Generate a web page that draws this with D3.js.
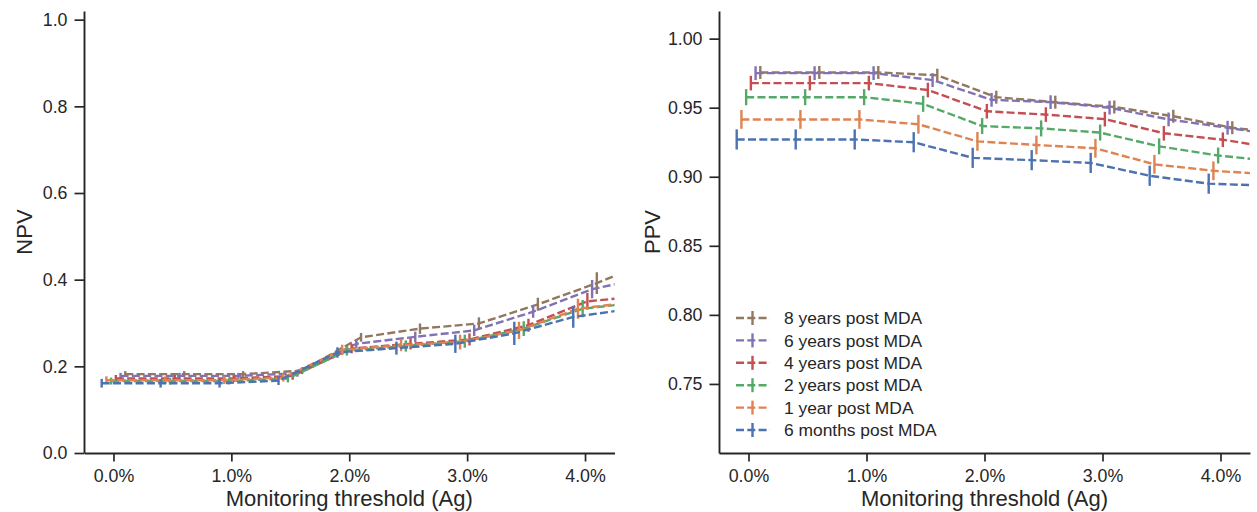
<!DOCTYPE html>
<html>
<head>
<meta charset="utf-8">
<script src="https://cdn.jsdelivr.net/npm/d3@7"></script>
<style>
  html, body { margin: 0; padding: 0; background: #fff; }
  svg { display: block; font-family: "Liberation Sans", Arial, sans-serif; }
</style>
</head>
<body>
<svg id="chart" width="1257" height="512"></svg>
<script>
// ---- data ----
const thresholds = [0, 0.5, 1.0, 1.5, 2.0, 2.5, 3.0, 3.5, 4.0, 4.5]; // %
const seriesNames = ["8 years post MDA", "6 years post MDA", "4 years post MDA",
                     "2 years post MDA", "1 year post MDA", "6 months post MDA"];
const seriesColors = ["#937860", "#8172B3", "#C44E52", "#55A868", "#DD8452", "#4C72B0"];
const seriesDodge = [0.1, 0.06, 0.02, -0.02, -0.06, -0.1];

const npv8y  = [0.182, 0.182, 0.182, 0.190, 0.267, 0.287, 0.299, 0.343, 0.392, 0.447];
const npv6y  = [0.178, 0.178, 0.178, 0.184, 0.252, 0.268, 0.283, 0.326, 0.378, 0.407];
const npv4y  = [0.172, 0.172, 0.172, 0.178, 0.241, 0.252, 0.262, 0.295, 0.350, 0.363];
const npv2y  = [0.166, 0.166, 0.166, 0.172, 0.236, 0.247, 0.258, 0.287, 0.333, 0.348];
const npv1y  = [0.168, 0.168, 0.168, 0.174, 0.238, 0.249, 0.256, 0.283, 0.333, 0.349];
const npv6m  = [0.161, 0.161, 0.161, 0.167, 0.232, 0.242, 0.252, 0.276, 0.314, 0.333];

const npvErr8y = [0.007, 0.007, 0.007, 0.008, 0.010, 0.012, 0.014, 0.015, 0.025, 0.030];
const npvErr6y = [0.007, 0.007, 0.007, 0.008, 0.010, 0.012, 0.013, 0.014, 0.021, 0.028];
const npvErr4y = [0.008, 0.008, 0.008, 0.009, 0.011, 0.013, 0.014, 0.015, 0.019, 0.028];
const npvErr2y = [0.008, 0.008, 0.008, 0.009, 0.011, 0.013, 0.015, 0.017, 0.020, 0.028];
const npvErr1y = [0.009, 0.009, 0.009, 0.009, 0.012, 0.014, 0.017, 0.020, 0.023, 0.030];
const npvErr6m = [0.010, 0.010, 0.010, 0.010, 0.012, 0.015, 0.021, 0.027, 0.025, 0.035];

const ppv8y  = [0.9755, 0.9755, 0.9755, 0.9735, 0.9576, 0.9540, 0.9505, 0.9438, 0.9355, 0.9305];
const ppv6y  = [0.9750, 0.9750, 0.9750, 0.9700, 0.9557, 0.9540, 0.9500, 0.9415, 0.9355, 0.9290];
const ppv4y  = [0.9678, 0.9678, 0.9678, 0.9628, 0.9474, 0.9450, 0.9417, 0.9315, 0.9268, 0.9200];
const ppv2y  = [0.9576, 0.9576, 0.9576, 0.9528, 0.9367, 0.9350, 0.9320, 0.9220, 0.9154, 0.9110];
const ppv1y  = [0.9415, 0.9415, 0.9415, 0.9380, 0.9256, 0.9230, 0.9206, 0.9090, 0.9043, 0.9016];
const ppv6m  = [0.9270, 0.9270, 0.9270, 0.9250, 0.9137, 0.9120, 0.9100, 0.9007, 0.8950, 0.8935];

const ppvErr8y = [0.0047, 0.0047, 0.0047, 0.0047, 0.0047, 0.0047, 0.0047, 0.0047, 0.0047, 0.0047];
const ppvErr6y = [0.0050, 0.0050, 0.0050, 0.0050, 0.0050, 0.0050, 0.0050, 0.0050, 0.0050, 0.0050];
const ppvErr4y = [0.0053, 0.0053, 0.0053, 0.0053, 0.0053, 0.0053, 0.0053, 0.0053, 0.0053, 0.0053];
const ppvErr2y = [0.0058, 0.0058, 0.0058, 0.0058, 0.0058, 0.0058, 0.0058, 0.0058, 0.0058, 0.0058];
const ppvErr1y = [0.0068, 0.0068, 0.0068, 0.0068, 0.0068, 0.0068, 0.0068, 0.0068, 0.0068, 0.0068];
const ppvErr6m = [0.0073, 0.0073, 0.0073, 0.0073, 0.0073, 0.0073, 0.0073, 0.0073, 0.0073, 0.0073];

const xTicks = [0, 1, 2, 3, 4];
const npvTicks = [0.0, 0.2, 0.4, 0.6, 0.8, 1.0];
const ppvTicks = [0.75, 0.80, 0.85, 0.90, 0.95, 1.00];
const xLabel = "Monitoring threshold (Ag)";

// ---- drawing ----
const svg = d3.select("#chart");
const TEXT = "#262626";
const plotTop = 11, plotBottom = 453;

function panel(opts) {
  const g = svg.append("g");
  const x = d3.scaleLinear().domain([-0.25, 4.25]).range([opts.x0, opts.x1]);
  const y = d3.scaleLinear().domain(opts.yDomain).range([plotBottom, plotTop]);
  const clipId = "clip" + opts.id;
  svg.append("clipPath").attr("id", clipId).append("rect")
    .attr("x", opts.x0).attr("y", plotTop).attr("width", opts.x1 - opts.x0).attr("height", plotBottom - plotTop);

  const plot = g.append("g").attr("clip-path", `url(#${clipId})`);
  const line = d3.line().x(d => x(d.x)).y(d => y(d.y));
  opts.series.forEach((vals, i) => {
    const pts = thresholds.map((t, j) => ({ x: t + seriesDodge[i], y: vals[j], e: opts.errs[i][j] }));
    plot.append("path").datum(pts)
      .attr("d", line).attr("fill", "none")
      .attr("stroke", seriesColors[i]).attr("stroke-width", 2.4)
      .attr("stroke-dasharray", "8,3.3");
    plot.selectAll(null).data(pts).enter().append("line")
      .attr("x1", d => x(d.x)).attr("x2", d => x(d.x))
      .attr("y1", d => y(d.y - d.e)).attr("y2", d => y(d.y + d.e))
      .attr("stroke", seriesColors[i]).attr("stroke-width", 2.4);
  });

  const xAxis = d3.axisBottom(x).tickValues(xTicks).tickFormat(d => d.toFixed(1) + "%")
    .tickSizeInner(8.5).tickSizeOuter(0).tickPadding(7.5);
  const gx = g.append("g").attr("transform", `translate(0,${plotBottom})`).call(xAxis);
  const yAxis = d3.axisLeft(y).tickValues(opts.ticks).tickFormat(opts.fmt)
    .tickSizeInner(9.5).tickSizeOuter(0).tickPadding(7);
  const gy = g.append("g").attr("transform", `translate(${opts.x0},0)`).call(yAxis);
  [gx, gy].forEach(a => {
    a.selectAll("path.domain").attr("stroke", TEXT).attr("stroke-width", 1.9);
    a.selectAll(".tick line").attr("stroke", TEXT).attr("stroke-width", 1.7);
    a.selectAll(".tick text").attr("fill", TEXT).style("font-size", "17.8px")
      .style("font-family", '"Liberation Sans", Arial, sans-serif');
  });

  g.append("text").attr("x", (opts.x0 + opts.x1) / 2).attr("y", 506)
    .attr("text-anchor", "middle").attr("fill", TEXT).style("font-size", "22px").text(xLabel);
  g.append("text").attr("transform", `translate(${opts.yLabelX},${(plotTop + plotBottom) / 2}) rotate(-90)`)
    .attr("text-anchor", "middle").attr("fill", TEXT).style("font-size", "22px").text(opts.yLabel);
  return { g, x, y };
}

panel({ id: "npv", x0: 84, x1: 614.5, yDomain: [0, 1.02], ticks: npvTicks,
  fmt: d3.format(".1f"), yLabel: "NPV", yLabelX: 32,
  series: [npv8y, npv6y, npv4y, npv2y, npv1y, npv6m],
  errs: [npvErr8y, npvErr6y, npvErr4y, npvErr2y, npvErr1y, npvErr6m] });

panel({ id: "ppv", x0: 719, x1: 1250, yDomain: [0.70, 1.02], ticks: ppvTicks,
  fmt: d3.format(".2f"), yLabel: "PPV", yLabelX: 660,
  series: [ppv8y, ppv6y, ppv4y, ppv2y, ppv1y, ppv6m],
  errs: [ppvErr8y, ppvErr6y, ppvErr4y, ppvErr2y, ppvErr1y, ppvErr6m] });

// legend
const leg = svg.append("g");
const rowY = d3.scaleLinear().domain([0, 5]).range([318, 430]);
seriesNames.forEach((name, i) => {
  const cy = rowY(i);
  leg.append("line").attr("x1", 735).attr("x2", 770).attr("y1", cy).attr("y2", cy)
    .attr("stroke", seriesColors[i]).attr("stroke-width", 2.4).attr("stroke-dasharray", "8,3.3")
    .attr("stroke-dashoffset", -1);
  leg.append("line").attr("x1", 752.5).attr("x2", 752.5).attr("y1", cy - 7).attr("y2", cy + 7)
    .attr("stroke", seriesColors[i]).attr("stroke-width", 2.4);
  leg.append("text").attr("x", 784).attr("y", cy).attr("dy", "0.36em")
    .attr("fill", TEXT).style("font-size", "17.4px").text(name);
});
</script>
</body>
</html>
